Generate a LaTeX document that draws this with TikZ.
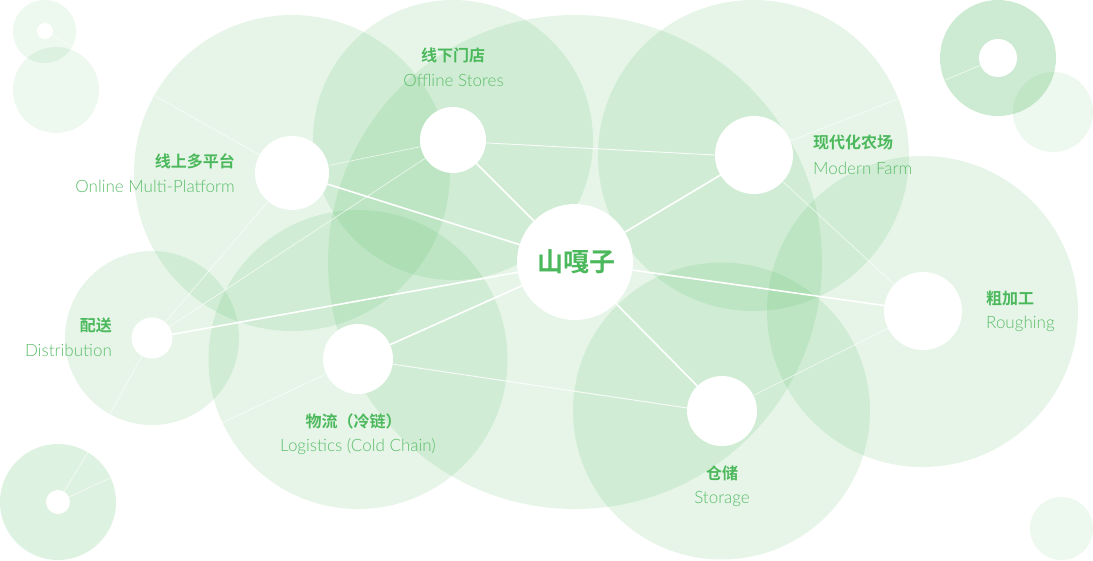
\documentclass[tikz,border=0pt]{standalone}
\usepackage{fontspec}
\newfontfamily\cjkfont{Noto Sans CJK SC}[BoldFont={Noto Sans CJK SC Bold}]
\newfontfamily\enfont{Lato Light}
\definecolor{leaf}{HTML}{4CB85C}
\definecolor{leaftext}{HTML}{5CBD6A}
\begin{document}
\begin{tikzpicture}[x=1pt,y=-1pt,line join=round,line cap=round,
disc/.style={fill=leaf,fill opacity=0.14},
hub/.style={circle,fill=white,inner sep=0pt},
thick link/.style={draw=white,line width=1.6pt},
mid link/.style={draw=white,line width=0.9pt,draw opacity=0.85},
thin link/.style={draw=white,line width=0.6pt,draw opacity=0.75},
zh/.style={text=leaf,font=\cjkfont\bfseries\fontsize{16}{16}\selectfont,inner sep=0pt},
en/.style={text=leaftext,font=\enfont\fontsize{17}{17}\selectfont,inner sep=0pt}]
\useasboundingbox (0,0) rectangle (1093,560);
% big discs
\fill[disc] (575,262) circle (247);
\fill[disc] (292,173) circle (158);
\fill[disc] (453,140) circle (140);
\fill[disc] (753.5,155.5) circle (155.5);
\fill[disc] (922.5,311.5) circle (155.5);
\fill[disc] (721.5,411) circle (148.5);
\fill[disc] (358,359.5) circle (149.5);
\fill[disc] (152,338) circle (87);
% small discs
\fill[disc,fill opacity=0.1] (44.5,31.5) circle (31.5);
\fill[disc,fill opacity=0.1] (56,90) circle (43);
\fill[disc,fill opacity=0.19] (58,502) circle (58);
\fill[disc,fill opacity=0.28] (998,58) circle (58);
\fill[disc,fill opacity=0.1] (1053,112) circle (40);
\fill[disc,fill opacity=0.1] (1061.5,528.5) circle (31.5);
% white hubs
\node[hub,minimum size=116pt] (brand) at (575,262) {};
\node[hub,minimum size=74pt] (online) at (292,173) {};
\node[hub,minimum size=66pt] (offline) at (453,140) {};
\node[hub,minimum size=78pt] (farm) at (754,155) {};
\node[hub,minimum size=78pt] (rough) at (923,311) {};
\node[hub,minimum size=70pt] (storage) at (722,411) {};
\node[hub,minimum size=70pt] (logistics) at (358,359) {};
\node[hub,minimum size=41pt] (distrib) at (152,338) {};
\node[hub,minimum size=16pt] (dotnw) at (45,31) {};
\node[hub,minimum size=24pt] (dotsw) at (58,502) {};
\node[hub,minimum size=38pt] (dotne) at (998,58) {};
% free ends
\coordinate (onlineend) at (155,96);
\coordinate (distribend) at (110,414);
\coordinate (logisticsend) at (222,423);
\coordinate (farmend) at (898,99);
\coordinate (nwend) at (72,47);
\coordinate (swenda) at (88,452);
\coordinate (swendb) at (110,478);
\coordinate (neend) at (945,80);
% links
\draw[thick link] (brand)--(online) (brand)--(offline) (brand)--(farm) (brand)--(rough)
(brand)--(storage) (brand)--(logistics) (brand)--(distrib);
\draw[mid link] (offline.-5)--(farm.west) (logistics)--(storage.175);
\draw[thin link] (online)--(offline) (online)--(distrib) (offline)--(distrib)
(farm)--(rough) (storage)--(rough)
(online)--(onlineend) (distrib)--(distribend) (logistics)--(logisticsend) (farm)--(farmend)
(dotnw)--(nwend) (dotsw)--(swenda) (dotsw)--(swendb) (dotne)--(neend);
% labels
\node[text=leaf,font=\cjkfont\bfseries\fontsize{26}{26}\selectfont,inner sep=0pt] (brandname) at (576,262) {山嘎子};
\node[zh,anchor=east] (onlinezh) at (235,161) {线上多平台};
\node[en,anchor=east] (onlineen) at (235,186) {Online Multi-Platform};
\node[zh] (offlinezh) at (453,55) {线下门店};
\node[en] (offlineen) at (453.5,80) {Offline Stores};
\node[zh,anchor=west] (farmzh) at (813,142) {现代化农场};
\node[en,anchor=west] (farmen) at (813,168) {Modern Farm};
\node[zh,anchor=west] (roughzh) at (986,298) {粗加工};
\node[en,anchor=west] (roughen) at (986,324) {Roughing};
\node[zh,anchor=east] (distribzh) at (112,325) {配送};
\node[en,anchor=east] (distriben) at (112,350) {Distribution};
\node[zh] (logisticszh) at (353.5,421) {物流（冷链）};
\node[en] (logisticsen) at (358,447) {Logistics (Cold Chain)};
\node[zh] (storagezh) at (722,473) {仓储};
\node[en] (storageen) at (722,499) {Storage};
\end{tikzpicture}
\end{document}
